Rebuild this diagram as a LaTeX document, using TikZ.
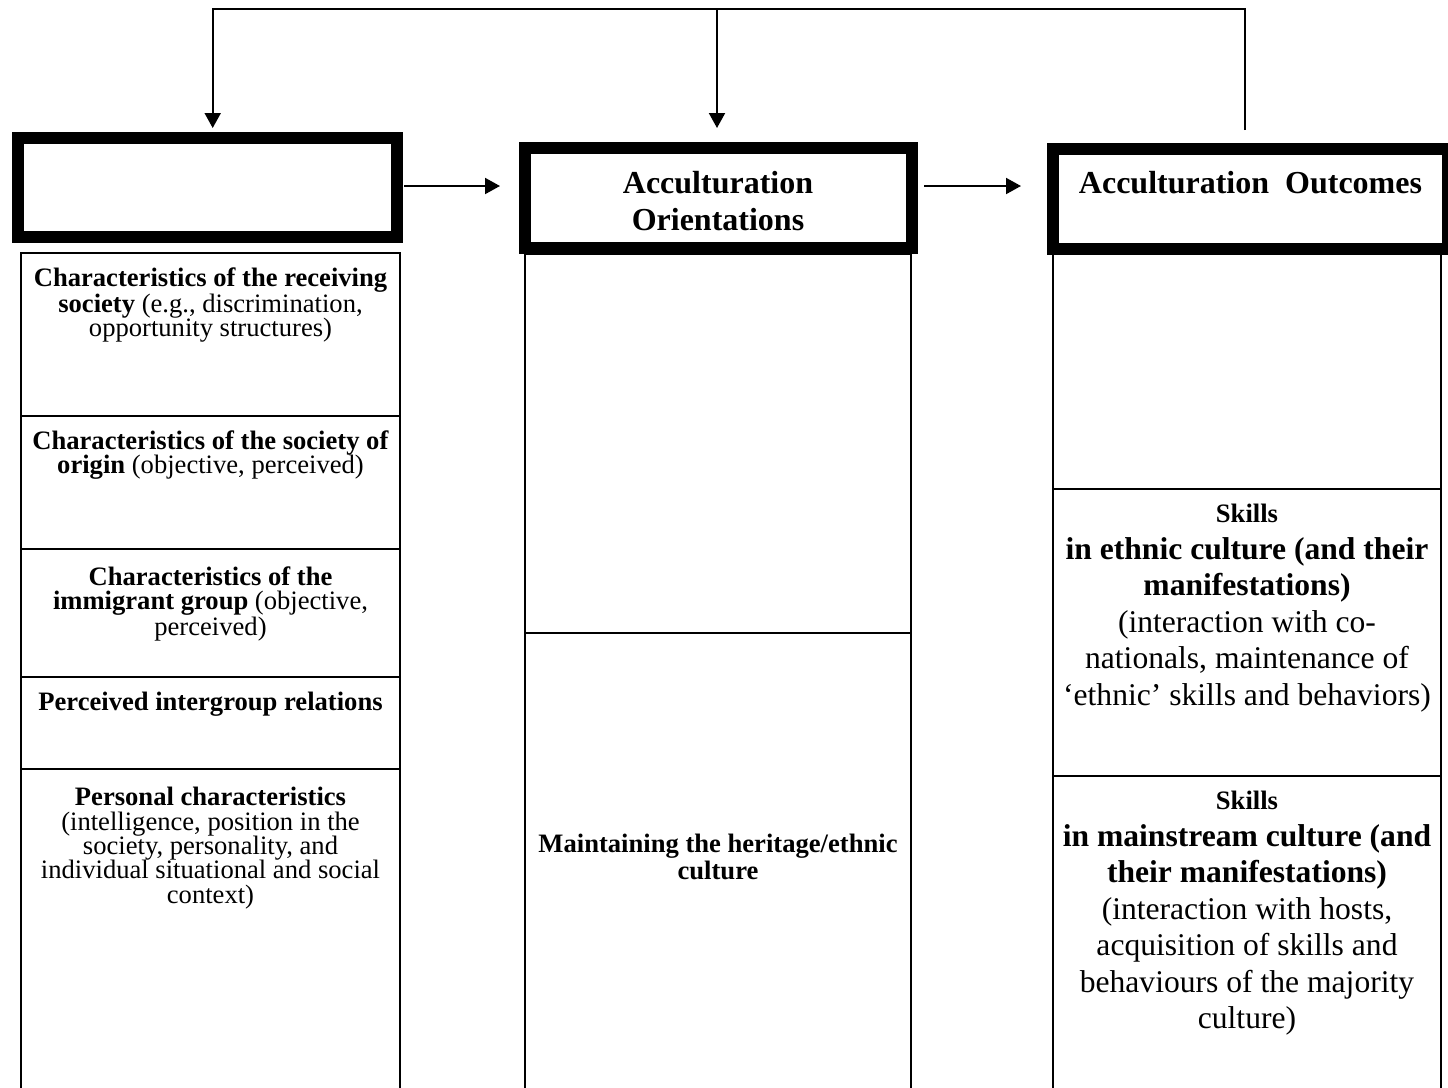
\documentclass[tikz,border=0pt]{standalone}
\usepackage{fontspec}
\setmainfont{Liberation Serif}
\usetikzlibrary{arrows.meta}
\begin{document}
\begin{tikzpicture}[x=0.5pt,y=-0.5pt,
  cell/.style={draw, line width=1pt, inner sep=0pt, outer sep=0pt, anchor=north west},
  headbox/.style={draw, line width=6pt, inner sep=0pt, outer sep=0pt, fill=white},
  body/.style={font=\fontsize{13.3}{12.15}\selectfont, align=center, inner sep=0pt, anchor=north},
  head/.style={font=\fontsize{16}{18.5}\selectfont\bfseries, align=center, inner sep=0pt},
  skill/.style={font=\fontsize{15.8}{18.25}\selectfont, align=center, inner sep=0pt, anchor=north},
  conn/.style={line width=1pt},
  arr/.style={line width=1pt, -{Triangle[width=8pt,length=7.5pt]}}]
\useasboundingbox (0,0) rectangle (1448,1088);
\clip (0,0) rectangle (1448,1088);
% left column cells
\node[cell, minimum width=189.5pt, minimum height=81.5pt] (c1) at (21,253) {};
\node[cell, minimum width=189.5pt, minimum height=66.5pt] (c2) at (21,416) {};
\node[cell, minimum width=189.5pt, minimum height=64pt] (c3) at (21,549) {};
\node[cell, minimum width=189.5pt, minimum height=46pt] (c4) at (21,677) {};
\node[cell, minimum width=189.5pt, minimum height=165.5pt] (c5) at (21,769) {};
% middle column cells
\node[cell, minimum width=193pt, minimum height=189.5pt] (m1) at (525,254) {};
\node[cell, minimum width=193pt, minimum height=233.5pt] (m2) at (525,633) {};
% right column cells
\node[cell, minimum width=194pt, minimum height=117.5pt] (r1) at (1053,254) {};
\node[cell, minimum width=194pt, minimum height=143.5pt] (r2) at (1053,489) {};
\node[cell, minimum width=194pt, minimum height=162pt] (r3) at (1053,776) {};
% header boxes
\node[headbox, minimum width=189.5pt, minimum height=49.5pt] (b1) at (207.5,187.5) {};
\node[headbox, minimum width=193.5pt, minimum height=50pt] (b2) at (718,198) {};
\node[headbox, minimum width=197.5pt, minimum height=50pt] (b3) at (1250.5,198.5) {};
% header texts
\node[head, anchor=north] (h2) at ([yshift=13.5pt]b2.center) {Acculturation\\Orientations};
\node[head, anchor=base] (h3) at ([yshift=2.75pt]b3.center) {Acculturation\ \ Outcomes};
% left column texts
\node[body] (t1) at ([yshift=-7pt]c1.north) {\textbf{Characteristics of the receiving}\\\textbf{society} (e.g., discrimination,\\opportunity structures)};
\node[body] (t2) at ([yshift=-7pt]c2.north) {\textbf{Characteristics of the society of}\\\textbf{origin} (objective, perceived)};
\node[body] (t3) at ([yshift=-8.5pt]c3.north) {\textbf{Characteristics of the}\\\textbf{immigrant group} (objective,\\perceived)};
\node[body] (t4) at ([yshift=-7.5pt]c4.north) {\textbf{Perceived intergroup relations}};
\node[body] (t5) at ([yshift=-9pt]c5.north) {\textbf{Personal characteristics}\\(intelligence, position in the\\society, personality, and\\individual situational and social\\context)};
% middle text
\node[body] (tm) at ([yshift=-100.5pt]m2.north) {\textbf{Maintaining the heritage/ethnic}\\\textbf{culture}};
% right texts
\node[skill] (tr2) at ([yshift=-7.5pt]r2.north) {{\fontsize{13.3}{18.25}\selectfont\bfseries Skills}\\\textbf{in ethnic culture (and their}\\\textbf{manifestations)}\\(interaction with co-\\nationals, maintenance of\\‘ethnic’ skills and behaviors)};
\node[skill] (tr3) at ([yshift=-7.5pt]r3.north) {{\fontsize{13.3}{18.25}\selectfont\bfseries Skills}\\\textbf{in mainstream culture (and}\\\textbf{their manifestations)}\\(interaction with hosts,\\acquisition of skills and\\behaviours of the majority\\culture)};
% connectors
\draw[arr] ([shift={(3.5pt,0.75pt)}]b1.east) -- ([shift={(-12.25pt,6pt)}]b2.west);
\draw[arr] ([shift={(6.25pt,6pt)}]b2.east) -- ([shift={(-16pt,6.25pt)}]b3.west);
\coordinate (fb3) at (1245,130);
\coordinate (ft3) at (1245,9);
\coordinate (ft1) at (212.7,9);
\coordinate (fe1) at (212.7,128);
\coordinate (ftm) at (717,9);
\coordinate (fem) at (717,128);
\draw[arr] (fb3) -- (ft3) -- (ft1) -- (fe1);
\draw[arr] (ftm) -- (fem);
\end{tikzpicture}
\end{document}
